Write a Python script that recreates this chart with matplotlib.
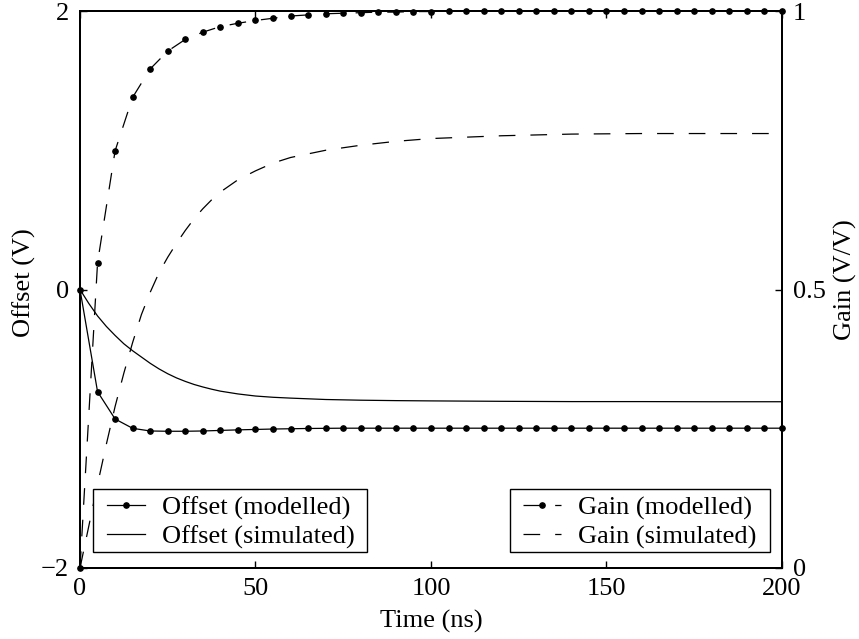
import matplotlib
matplotlib.use("Agg")
import matplotlib.pyplot as plt
from matplotlib.patches import Rectangle

plt.rcParams['font.family'] = ['Liberation Serif', 'DejaVu Serif']
plt.rcParams['font.size'] = 19
plt.rcParams['lines.scale_dashes'] = False

# Modelled series (every 5 ns)
t_mod = [0, 5, 10, 15, 20, 25, 30, 35, 40, 45, 50, 55, 60, 65, 70, 75, 80, 85, 90, 95,
         100, 105, 110, 115, 120, 125, 130, 135, 140, 145, 150, 155, 160, 165, 170, 175,
         180, 185, 190, 195, 200]
offset_mod = [0, -0.734, -0.93, -0.997, -1.016, -1.018, -1.018, -1.016, -1.012, -1.008,
              -1.005, -1.002, -1.0, -0.998, -0.997, -0.996, -0.996, -0.996, -0.996, -0.996,
              -0.996, -0.996, -0.996, -0.996, -0.996, -0.996, -0.996, -0.996, -0.996, -0.996,
              -0.996, -0.996, -0.996, -0.996, -0.996, -0.996, -0.996, -0.996, -0.996, -0.996,
              -0.996]
gain_mod = [0, 0.548, 0.749, 0.845, 0.896, 0.928, 0.949, 0.962, 0.972, 0.978, 0.983,
            0.987, 0.991, 0.993, 0.995, 0.996, 0.997, 0.998, 0.998, 0.999, 0.999, 1.0,
            1.0, 1.0, 1.0, 1.0, 1.0, 1.0, 1.0, 1.0, 1.0, 1.0, 1.0, 1.0, 1.0, 1.0, 1.0,
            1.0, 1.0, 1.0, 1.0]

# Simulated series
t_sim = [0, 2.5, 5, 7.5, 10, 12.5, 15, 17.5, 20, 22.5, 25, 27.5, 30, 32.5, 35, 37.5,
         40, 45, 50, 55, 60, 70, 80, 90, 100, 120, 140, 160, 180, 200]
offset_sim = [0, -0.10, -0.19, -0.265, -0.33, -0.39, -0.44, -0.485, -0.53, -0.57,
              -0.605, -0.635, -0.66, -0.682, -0.70, -0.716, -0.73, -0.75, -0.765,
              -0.774, -0.78, -0.79, -0.795, -0.798, -0.80, -0.803, -0.805, -0.805,
              -0.806, -0.806]
gain_sim = [0, 0.075, 0.15, 0.222, 0.29, 0.35, 0.405, 0.455, 0.495, 0.53, 0.558, 0.583,
            0.606, 0.627, 0.645, 0.661, 0.675, 0.697, 0.713, 0.727, 0.737, 0.75, 0.759,
            0.766, 0.771, 0.776, 0.779, 0.78, 0.78, 0.78]

fig = plt.figure(figsize=(8.59, 6.39), dpi=100)
ax = fig.add_axes([80/859, 1-568/639, 702/859, 557/639])
ax2 = ax.twinx()

lw = 0.9
dash = (12, 10.8)
l1, = ax.plot(t_mod, offset_mod, '-', color='black', lw=lw, marker='o', ms=3.8,
              clip_on=False, label='Offset (modelled)')
l2, = ax.plot(t_sim, offset_sim, '-', color='black', lw=lw, label='Offset (simulated)')
l3, = ax2.plot(t_mod, gain_mod, color='black', lw=lw, marker='o', ms=3.8,
               linestyle=(0, dash), clip_on=False, label='Gain (modelled)')
l4, = ax2.plot(t_sim, gain_sim, color='black', lw=lw, linestyle=(0, dash),
               label='Gain (simulated)')

ax.set_xlim(0, 200)
ax.set_ylim(-2, 2)
ax2.set_ylim(0, 1)
ax.set_xticks([0, 50, 100, 150, 200])
ax.set_yticks([-2, 0, 2])
ax2.set_yticks([0, 0.5, 1])
ax2.set_yticklabels(['0', '0.5', '1'])

ax.tick_params(direction='in', length=5, width=1, top=True, right=False, pad=8)
ax.tick_params(axis='x', pad=7)
ax2.tick_params(direction='in', length=5, width=1, pad=8)
for a in (ax, ax2):
    for s in a.spines.values():
        s.set_linewidth(1.4)

ax.set_xlabel('Time (ns)', labelpad=7)
ax.set_ylabel('Offset (V)')
ax.yaxis.set_label_coords(-0.062, 0.512)
ax2.set_ylabel('Gain (V/V)')
ax2.yaxis.set_label_coords(1.0735, 0.517)

# legend frames
for x0, x1 in [(92.7, 367), (510, 770)]:
    ax2.add_patch(Rectangle(((x0 - 80) / 702, 0.0287), (x1 - x0) / 702, 0.1131,
                            transform=ax2.transAxes, facecolor='white',
                            edgecolor='black', lw=1.0, zorder=4, clip_on=False))

leg_kw = dict(frameon=False, borderaxespad=0, borderpad=0, labelspacing=0.2,
              handlelength=1.44, handletextpad=0.64, fontsize=19)
leg1 = ax2.legend(handles=[l1, l2], loc='center left',
                  bbox_to_anchor=((107 - 80) / 702, 0.082), **leg_kw)
leg1.set_zorder(5)
ax2.add_artist(leg1)
leg2 = ax2.legend(handles=[l3, l4], loc='center left',
                  bbox_to_anchor=((523 - 80) / 702, 0.082), **leg_kw)
leg2.set_zorder(5)

fig.savefig('out.png', dpi=100)
